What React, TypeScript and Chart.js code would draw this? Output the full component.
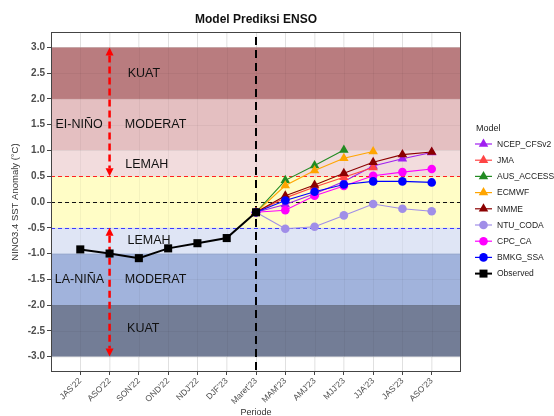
import React, { useEffect, useRef } from 'react';
import { Chart, registerables } from 'chart.js';
Chart.register(...registerables);

const categories = ["JAS'22", "ASO'22", "SON'22", "OND'22", "NDJ'22", "DJF'23", "Maret'23", "MAM'23", "AMJ'23", "MJJ'23", "JJA'23", "JAS'23", "ASO'23"];
const observed = [-0.92, -1.0, -1.09, -0.9, -0.8, -0.7, -0.2];
const forecastStart = 6; // Maret'23
const ncepCfsv2 = [-0.2, -0.05, 0.16, 0.4, 0.7, 0.84, 0.96];
const jma = [-0.2, 0.08, 0.29, 0.48, 0.67, null, null];
const ausAccess = [-0.2, 0.42, 0.71, 1.01, null, null, null];
const ecmwf = [-0.2, 0.32, 0.61, 0.85, 0.98, null, null];
const nmme = [-0.2, 0.12, 0.33, 0.56, 0.77, 0.92, 0.97];
const ntuCoda = [-0.2, -0.52, -0.48, -0.26, -0.04, -0.13, -0.18];
const cpcCa = [-0.2, -0.16, 0.12, 0.31, 0.51, 0.58, 0.64];
const bmkgSsa = [-0.2, 0.03, 0.2, 0.34, 0.4, 0.4, 0.38];
const yTicks = [3.0, 2.5, 2.0, 1.5, 1.0, 0.5, 0.0, -0.5, -1.0, -1.5, -2.0, -2.5, -3.0];

const bands = [
  { from: 2.0, to: 3.0, color: '#b97c7f' },
  { from: 1.0, to: 2.0, color: '#e4bfc1' },
  { from: 0.5, to: 1.0, color: '#f2dcdd' },
  { from: -0.5, to: 0.5, color: '#fffdc6' },
  { from: -1.0, to: -0.5, color: '#dfe5f5' },
  { from: -2.0, to: -1.0, color: '#a1b3dc' },
  { from: -3.0, to: -2.0, color: '#737d96' },
];
const refLines = [
  { y: 0.5, color: '#ff2020' },
  { y: 0.0, color: '#111111' },
  { y: -0.5, color: '#3b3bff' },
];
const bandLabels = [
  { text: 'KUAT', x: 2.17, y: 2.5 },
  { text: 'MODERAT', x: 2.57, y: 1.5 },
  { text: 'LEMAH', x: 2.27, y: 0.72 },
  { text: 'EI-NIÑO', x: -0.04, y: 1.5 },
  { text: 'LEMAH', x: 2.35, y: -0.75 },
  { text: 'LA-NIÑA', x: -0.03, y: -1.5 },
  { text: 'MODERAT', x: 2.57, y: -1.5 },
  { text: 'KUAT', x: 2.15, y: -2.45 },
];
const arrowX = 1;
const arrows = [
  { from: 3.0, to: 0.5 },
  { from: -0.5, to: -3.0 },
];

type Series = { label: string; values: (number | null)[]; color: string; shape: string; start: number };
const series: Series[] = [
  { label: 'NCEP_CFSv2', values: ncepCfsv2, color: '#a020f0', shape: 'triangle', start: forecastStart },
  { label: 'JMA', values: jma, color: '#ff4545', shape: 'triangle', start: forecastStart },
  { label: 'AUS_ACCESS', values: ausAccess, color: '#228b22', shape: 'triangle', start: forecastStart },
  { label: 'ECMWF', values: ecmwf, color: '#ffa500', shape: 'triangle', start: forecastStart },
  { label: 'NMME', values: nmme, color: '#8b0000', shape: 'triangle', start: forecastStart },
  { label: 'NTU_CODA', values: ntuCoda, color: '#a08ee8', shape: 'circle', start: forecastStart },
  { label: 'CPC_CA', values: cpcCa, color: '#ff00ff', shape: 'circle', start: forecastStart },
  { label: 'BMKG_SSA', values: bmkgSsa, color: '#0000ff', shape: 'circle', start: forecastStart },
  { label: 'Observed', values: observed, color: '#000000', shape: 'rect', start: 0 },
];

function drawMarker(ctx: CanvasRenderingContext2D, shape: string, x: number, y: number, color: string) {
  ctx.fillStyle = color;
  ctx.beginPath();
  if (shape === 'triangle') {
    const r = 5.5;
    ctx.moveTo(x, y - r);
    ctx.lineTo(x + r * 0.866, y + r * 0.5);
    ctx.lineTo(x - r * 0.866, y + r * 0.5);
    ctx.closePath();
  } else if (shape === 'circle') {
    ctx.arc(x, y, 4.3, 0, Math.PI * 2);
  } else {
    ctx.rect(x - 4, y - 4, 8, 8);
  }
  ctx.fill();
}

const backgroundPlugin = {
  id: 'ensoBackground',
  beforeDatasetsDraw(chart: any) {
    const { ctx, chartArea, scales } = chart;
    const xs = scales.x;
    const ys = scales.y;
    ctx.save();
    ctx.beginPath();
    ctx.rect(chartArea.left, chartArea.top, chartArea.right - chartArea.left, chartArea.bottom - chartArea.top);
    ctx.clip();
    bands.forEach((b) => {
      const y1 = ys.getPixelForValue(b.to);
      const y2 = ys.getPixelForValue(b.from);
      ctx.fillStyle = b.color;
      ctx.fillRect(chartArea.left, y1, chartArea.right - chartArea.left, y2 - y1);
    });
    // faint grid through bands
    ctx.strokeStyle = 'rgba(0,0,0,0.045)';
    ctx.lineWidth = 1;
    categories.forEach((_, i) => {
      const px = Math.round(xs.getPixelForValue(i)) + 0.5;
      ctx.beginPath();
      ctx.moveTo(px, chartArea.top);
      ctx.lineTo(px, chartArea.bottom);
      ctx.stroke();
    });
    yTicks.forEach((v) => {
      const py = Math.round(ys.getPixelForValue(v)) + 0.5;
      ctx.beginPath();
      ctx.moveTo(chartArea.left, py);
      ctx.lineTo(chartArea.right, py);
      ctx.stroke();
    });
    // reference dashed lines
    refLines.forEach((l) => {
      const py = Math.round(ys.getPixelForValue(l.y)) + 0.5;
      ctx.strokeStyle = l.color;
      ctx.lineWidth = 1;
      ctx.setLineDash([4, 3]);
      ctx.beginPath();
      ctx.moveTo(chartArea.left, py);
      ctx.lineTo(chartArea.right, py);
      ctx.stroke();
    });
    // vertical line at Maret'23
    const vx = xs.getPixelForValue(forecastStart);
    ctx.strokeStyle = '#000';
    ctx.lineWidth = 2;
    ctx.setLineDash([8, 5]);
    ctx.beginPath();
    ctx.moveTo(vx, chartArea.top + 5);
    ctx.lineTo(vx, chartArea.bottom);
    ctx.stroke();
    // arrows
    const ax = xs.getPixelForValue(arrowX);
    arrows.forEach((a) => {
      const yTop = ys.getPixelForValue(a.from);
      const yBot = ys.getPixelForValue(a.to);
      const head = 8;
      ctx.strokeStyle = '#ff0000';
      ctx.lineWidth = 2.5;
      ctx.setLineDash([7, 4]);
      ctx.beginPath();
      ctx.moveTo(ax, yTop + head);
      ctx.lineTo(ax, yBot - head);
      ctx.stroke();
      ctx.setLineDash([]);
      ctx.fillStyle = '#ff0000';
      ctx.beginPath();
      ctx.moveTo(ax, yTop);
      ctx.lineTo(ax + 4, yTop + head);
      ctx.lineTo(ax - 4, yTop + head);
      ctx.closePath();
      ctx.fill();
      ctx.beginPath();
      ctx.moveTo(ax, yBot);
      ctx.lineTo(ax + 4, yBot - head);
      ctx.lineTo(ax - 4, yBot - head);
      ctx.closePath();
      ctx.fill();
    });
    ctx.setLineDash([]);
    // band labels
    ctx.fillStyle = '#111';
    ctx.font = '12.5px "Liberation Sans", Arial, sans-serif';
    ctx.textAlign = 'center';
    ctx.textBaseline = 'middle';
    bandLabels.forEach((t) => {
      ctx.fillText(t.text, xs.getPixelForValue(t.x), ys.getPixelForValue(t.y));
    });
    ctx.restore();
  },
  afterDraw(chart: any) {
    const { ctx, chartArea } = chart;
    ctx.save();
    // panel border
    ctx.strokeStyle = '#444';
    ctx.lineWidth = 1;
    ctx.strokeRect(chartArea.left + 0.5, chartArea.top + 0.5, chartArea.right - chartArea.left - 1, chartArea.bottom - chartArea.top - 1);
    // title
    ctx.fillStyle = '#111';
    ctx.font = 'bold 12px "Liberation Sans", Arial, sans-serif';
    ctx.textAlign = 'center';
    ctx.textBaseline = 'middle';
    ctx.fillText('Model Prediksi ENSO', (chartArea.left + chartArea.right) / 2, 20);
    // legend
    const lx = chartArea.right + 14;
    ctx.textAlign = 'left';
    ctx.font = '9px "Liberation Sans", Arial, sans-serif';
    ctx.fillStyle = '#222';
    ctx.fillText('Model', lx + 1, 129);
    ctx.font = '8.5px "Liberation Sans", Arial, sans-serif';
    series.forEach((s, i) => {
      const y = 144 + i * 16.2;
      ctx.strokeStyle = s.color;
      ctx.lineWidth = s.label === 'Observed' ? 2 : 1.2;
      ctx.beginPath();
      ctx.moveTo(lx, y);
      ctx.lineTo(lx + 17, y);
      ctx.stroke();
      drawMarker(ctx, s.shape, lx + 8.5, y, s.color);
      ctx.fillStyle = '#222';
      ctx.fillText(s.label, lx + 22, y + 0.5);
    });
    ctx.restore();
  },
};

export default function App() {
  const ref = useRef<HTMLCanvasElement | null>(null);
  useEffect(() => {
    if (!ref.current) return;
    const datasets = series.map((s, idx) => ({
      label: s.label,
      data: s.values.map((v, i) => ({ x: s.start + i, y: v })).filter((p) => p.y !== null),
      borderColor: s.color,
      backgroundColor: s.color,
      borderWidth: s.label === 'Observed' ? 2 : 1.1,
      pointStyle: s.shape,
      pointRadius: s.shape === 'triangle' ? 5.5 : s.shape === 'circle' ? 4.3 : 5.7,
      pointBorderWidth: 0,
      pointHoverRadius: 0,
      order: series.length - idx,
      spanGaps: false,
    }));
    const chart = new Chart(ref.current, {
      type: 'line',
      data: { datasets },
      options: {
        responsive: false,
        animation: false,
        events: [],
        layout: { padding: { left: 0, top: 32, right: 93, bottom: 0 } },
        plugins: { legend: { display: false }, tooltip: { enabled: false }, title: { display: false } },
        scales: {
          x: {
            type: 'linear',
            min: -1,
            max: categories.length,
            afterBuildTicks: (scale: any) => {
              scale.ticks = categories.map((_, i) => ({ value: i }));
            },
            afterFit: (scale: any) => {
              scale.height = 44;
            },
            ticks: {
              autoSkip: false,
              minRotation: 45,
              maxRotation: 45,
              padding: 1,
              color: '#4d4d4d',
              font: { size: 8.5, family: '"Liberation Sans", Arial, sans-serif' },
              callback: (v: any) => categories[Math.round(Number(v))] ?? '',
            },
            grid: { color: '#ebebeb', tickColor: '#444', tickLength: 3 },
            border: { display: false },
            title: {
              display: true,
              text: 'Periode',
              color: '#333',
              font: { size: 9, family: '"Liberation Sans", Arial, sans-serif' },
              padding: { top: 0, bottom: -2 },
            },
          },
          y: {
            type: 'linear',
            min: -3.3,
            max: 3.3,
            afterBuildTicks: (scale: any) => {
              scale.ticks = yTicks.map((v) => ({ value: v }));
            },
            afterFit: (scale: any) => {
              scale.width = 51;
            },
            ticks: {
              padding: 2,
              color: '#4d4d4d',
              font: { size: 10, weight: 'bold', family: '"Liberation Sans", Arial, sans-serif' },
              callback: (v: any) => Number(v).toFixed(1),
            },
            grid: { color: '#ebebeb', tickColor: '#444', tickLength: 4 },
            border: { display: false },
            title: {
              display: true,
              text: 'NINO3.4 SST Anomaly (°C)',
              color: '#333',
              font: { size: 9.5, family: '"Liberation Sans", Arial, sans-serif' },
              padding: { top: 10, bottom: 0 },
            },
          },
        },
      },
      plugins: [backgroundPlugin],
    } as any);
    return () => chart.destroy();
  }, []);
  return (
    <div style={{ position: 'fixed', left: 0, top: 0, width: 554, height: 416, background: '#fff' }}>
      <canvas ref={ref} width={554} height={416} style={{ display: 'block', width: 554, height: 416 }} />
    </div>
  );
}
